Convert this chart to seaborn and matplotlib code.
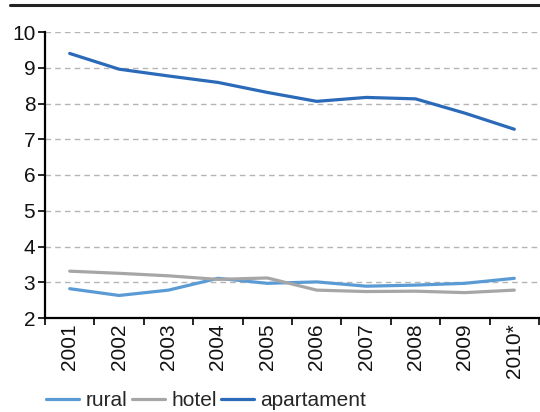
import matplotlib
matplotlib.use("Agg")
import matplotlib.pyplot as plt
from matplotlib.lines import Line2D
from matplotlib.ticker import FixedLocator
import seaborn as sns
import pandas as pd

# Average stay (nights) by accommodation type
years = ["2001", "2002", "2003", "2004", "2005", "2006", "2007", "2008", "2009", "2010*"]
rural = [2.82, 2.63, 2.78, 3.11, 2.97, 3.01, 2.89, 2.92, 2.97, 3.11]
hotel = [3.31, 3.25, 3.18, 3.08, 3.12, 2.78, 2.74, 2.75, 2.71, 2.78]
apartament = [9.40, 8.96, 8.77, 8.59, 8.31, 8.06, 8.17, 8.13, 7.73, 7.28]
series_names = ["rural", "hotel", "apartament"]
y_ticks = [2, 3, 4, 5, 6, 7, 8, 9, 10]

colors = {"rural": "#5b9bd5", "hotel": "#a6a6a6", "apartament": "#2a6ab8"}

df = pd.DataFrame({
    "year": years * 3,
    "value": rural + hotel + apartament,
    "type": [n for n in series_names for _ in years],
})

sns.set_theme(style="white")
plt.rcParams["font.family"] = ["Liberation Sans", "DejaVu Sans"]

fig = plt.figure(figsize=(5.40, 4.12), dpi=100)
ax = fig.add_axes([45 / 540, 1 - 318 / 412, 494 / 540, 286 / 412])

sns.lineplot(data=df, x="year", y="value", hue="type", palette=colors,
             hue_order=series_names, linewidth=2.3, sort=False, ax=ax,
             legend=False)

ax.set_xlim(-0.5, len(years) - 0.5)
ax.set_ylim(2, 10)
ax.set_xlabel("")
ax.set_ylabel("")

ax.set_yticks(y_ticks)
ax.set_yticklabels([str(v) for v in y_ticks], fontsize=15, color="#111111")
ax.set_xticks(range(len(years)))
ax.set_xticklabels(years, rotation=90, fontsize=15, color="#111111")
ax.tick_params(axis="x", which="major", length=0, pad=4)
ax.xaxis.set_minor_locator(FixedLocator([i - 0.5 for i in range(len(years) + 1)]))
ax.tick_params(axis="x", which="minor", length=5, width=1.2, color="black",
               direction="out", bottom=True)
ax.tick_params(axis="y", which="major", length=5, width=1.2, color="black",
               direction="out", left=True, pad=2)

for v in y_ticks[1:]:
    ax.axhline(v, color="#b5b5b5", linestyle=(0, (4, 3)), linewidth=1.0, zorder=0)

for side in ("top", "right"):
    ax.spines[side].set_visible(False)
for side in ("left", "bottom"):
    ax.spines[side].set_color("black")
    ax.spines[side].set_linewidth(1.6)

# header rule across the top
fig.add_artist(Line2D([10 / 540, 1.0], [1 - 5 / 412, 1 - 5 / 412],
                      color="#222222", linewidth=2.2, transform=fig.transFigure))

handles = [Line2D([], [], color=colors[n], linewidth=2.3) for n in series_names]
fig.legend(handles, series_names, loc="center left",
           bbox_to_anchor=(46 / 540, 1 - 401 / 412), ncol=3, frameon=False,
           fontsize=15, handlelength=1.6, handletextpad=0.3,
           columnspacing=0.2, borderaxespad=0, borderpad=0)

fig.savefig("out.png", dpi=100)
